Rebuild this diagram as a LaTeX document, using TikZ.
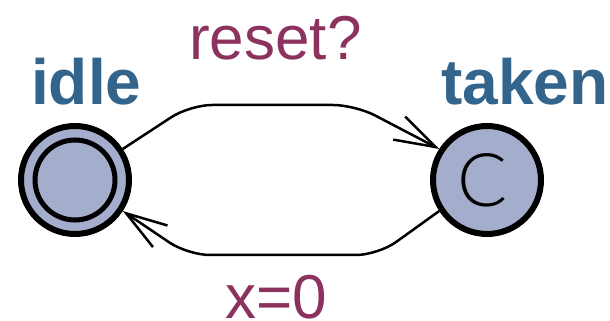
\documentclass[tikz,border=0pt]{standalone}
\usepackage{fontspec}
\setmainfont{Liberation Sans}
\newfontfamily\cfont{Lato Light}
\usetikzlibrary{arrows.meta}
\definecolor{locfill}{RGB}{164,173,203}
\definecolor{locname}{RGB}{50,100,140}
\definecolor{lbl}{RGB}{140,50,95}
\tikzset{
  loc/.style={circle,draw=black,line width=6pt,fill=locfill,minimum size=108pt,inner sep=0pt},
  locname/.style={text=locname,font=\fontsize{64}{64}\selectfont\bfseries,inner sep=0pt,anchor=base west},
  elabel/.style={text=lbl,font=\fontsize{62}{62}\selectfont,inner sep=0pt,anchor=base west},
  edge/.style={line width=2.5pt,rounded corners=22pt,-{Straight Barb[length=41pt,width=26pt,line width=2.5pt]}},
}
\begin{document}
\begin{tikzpicture}[x=1pt,y=1pt]
\useasboundingbox (0,0) rectangle (610,321);
\node[loc] (idle) at (75,141) {};
\draw[line width=5pt] (idle.center) circle (40pt);
\node[loc] (taken) at (487,141) {};
\node[font=\cfont\fontsize{74}{74}\selectfont,inner sep=0pt,xshift=-4pt] (c) at (taken.center) {C};
\node[locname] (idlelbl) at (31,216) {idle};
\node[locname] (takenlbl) at (441,216) {taken};
\node[elabel] (reset) at (189,261) {reset?};
\node[elabel] (x0) at (225,2) {x=0};
\coordinate (u1) at (190,216);
\coordinate (u2) at (355,216);
\coordinate (l1) at (378,66);
\coordinate (l2) at (188,66);
\draw[edge] (idle.33) -- (u1) -- (u2) -- (taken.147);
\draw[edge] (taken.213) -- (l1) -- (l2) -- (idle.-33);
\end{tikzpicture}
\end{document}
